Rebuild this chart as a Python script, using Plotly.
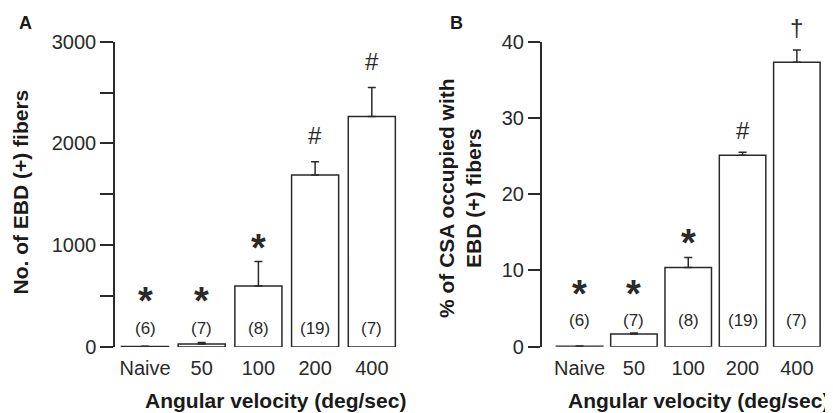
import plotly.graph_objects as go

categories = ["Naive", "50", "100", "200", "400"]
n_labels = ["(6)", "(7)", "(8)", "(19)", "(7)"]

# Panel A: number of EBD(+) fibers
a_values = [4, 30, 600, 1690, 2265]
a_errors = [4, 15, 240, 130, 285]
a_marks = ["*", "*", "*", "#", "#"]
a_mark_y = [530, 530, 1050, 2075, 2805]

# Panel B: % of CSA occupied
b_values = [0.05, 1.65, 10.4, 25.1, 37.3]
b_errors = [0.05, 0.15, 1.3, 0.4, 1.6]
b_marks = ["*", "*", "*", "#", "\u2020"]
b_mark_y = [7.9, 7.9, 14.6, 28.4, 41.8]

a_yticks = [0, 500, 1000, 1500, 2000, 2500, 3000]
a_yticktext = ["0", "", "1000", "", "2000", "", "3000"]
b_yticks = [0, 10, 20, 30, 40]
A_MAX, B_MAX = 3000, 40

FONT = "Liberation Sans, Arial, sans-serif"
INK = "#2a2a2a"
OFF = 8            # page body margin
W, H = 825, 405

xpos = list(range(len(categories)))

fig = go.Figure()
fig.add_trace(go.Bar(
    x=xpos, y=a_values, width=0.83, xaxis="x", yaxis="y",
    marker=dict(color="white", line=dict(color=INK, width=1.5)),
    error_y=dict(type="data", symmetric=False, array=a_errors,
                 arrayminus=[0] * 5, color=INK, thickness=1.5, width=4),
    showlegend=False,
))
fig.add_trace(go.Bar(
    x=xpos, y=b_values, width=0.856, xaxis="x2", yaxis="y2",
    marker=dict(color="white", line=dict(color=INK, width=1.5)),
    error_y=dict(type="data", symmetric=False, array=b_errors,
                 arrayminus=[0] * 5, color=INK, thickness=1.5, width=4),
    showlegend=False,
))

def px_x(p):
    return (p - OFF) / W

def px_y(p):
    return 1 - (p - OFF) / H

fig.update_layout(
    width=W, height=H,
    margin=dict(l=0, r=0, t=0, b=0, pad=0),
    paper_bgcolor="white", plot_bgcolor="white",
    font=dict(family=FONT, color=INK),
    xaxis=dict(domain=[px_x(115), px_x(400)], range=[-0.529, 4.497],
               tickvals=xpos, ticktext=categories, showline=False, ticks="",
               showgrid=False, zeroline=False, anchor="y", automargin=False,
               ticklabelstandoff=7,
               tickfont=dict(family=FONT, size=20, color=INK)),
    yaxis=dict(domain=[px_y(347), px_y(41.7)], range=[0, A_MAX],
               tickvals=a_yticks, ticktext=a_yticktext, ticks="outside",
               ticklen=13, tickwidth=1.5, tickcolor=INK, showline=True,
               linewidth=1.5, linecolor=INK, showgrid=False, zeroline=False,
               anchor="x", automargin=False,
               tickfont=dict(family=FONT, size=20, color=INK)),
    xaxis2=dict(domain=[px_x(541.7), px_x(830)], range=[-0.698, 4.61],
                tickvals=xpos, ticktext=categories, showline=False, ticks="",
                showgrid=False, zeroline=False, anchor="y2", automargin=False,
                ticklabelstandoff=7,
                tickfont=dict(family=FONT, size=20, color=INK)),
    yaxis2=dict(domain=[px_y(346.7), px_y(41.7)], range=[0, B_MAX],
                tickvals=b_yticks, ticks="outside",
                ticklen=12, tickwidth=1.5, tickcolor=INK, showline=True,
                linewidth=1.5, linecolor=INK, showgrid=False, zeroline=False,
                anchor="x2", automargin=False,
                tickfont=dict(family=FONT, size=20, color=INK)),
)

C = dict(xanchor="center", yanchor="middle", showarrow=False)

ann = []
for i, t in enumerate(n_labels):
    ann.append(dict(x=i, y=185, xref="x", yref="y", text=t,
                    font=dict(family=FONT, size=17, color=INK), **C))
    ann.append(dict(x=i, y=3.5, xref="x2", yref="y2", text=t,
                    font=dict(family=FONT, size=17, color=INK), **C))

def mark_font(m):
    if m == "*":
        return dict(family=FONT, size=38, color=INK, weight="bold")
    return dict(family=FONT, size=24, color=INK)

def mark_shift(m):
    return -8 if m == "*" else 0

# marks positioned in axis-domain fractions so those above the range still show
for i, (m, y) in enumerate(zip(a_marks, a_mark_y)):
    ann.append(dict(x=i, y=y / A_MAX, xref="x", yref="y domain", text=m,
                    yshift=mark_shift(m), font=mark_font(m), **C))
for i, (m, y) in enumerate(zip(b_marks, b_mark_y)):
    ann.append(dict(x=i, y=y / B_MAX, xref="x2", yref="y2 domain", text=m,
                    yshift=mark_shift(m), font=mark_font(m), **C))

title_font = dict(family=FONT, size=21, color="#1a1a1a", weight="bold")
letter_font = dict(family=FONT, size=18, color="#1a1a1a", weight="bold")
ann += [
    dict(x=px_x(20), y=px_y(192.5), xref="paper", yref="paper",
         text="No. of EBD (+) fibers", textangle=-90, font=title_font, **C),
    dict(x=px_x(460), y=px_y(198), xref="paper", yref="paper",
         text="% of CSA occupied with<br>EBD (+) fibers", textangle=-90,
         font=title_font, **C),
    dict(x=px_x(275.5), y=px_y(400), xref="paper", yref="paper",
         text="Angular velocity (deg/sec)", font=title_font, **C),
    dict(x=px_x(698), y=px_y(400), xref="paper", yref="paper",
         text="Angular velocity (deg/sec)", font=title_font, **C),
    dict(x=px_x(25), y=px_y(23), xref="paper", yref="paper", text="A",
         font=letter_font, **C),
    dict(x=px_x(457), y=px_y(23), xref="paper", yref="paper", text="B",
         font=letter_font, **C),
]
fig.update_layout(annotations=ann)

fig.write_html("out.html")
